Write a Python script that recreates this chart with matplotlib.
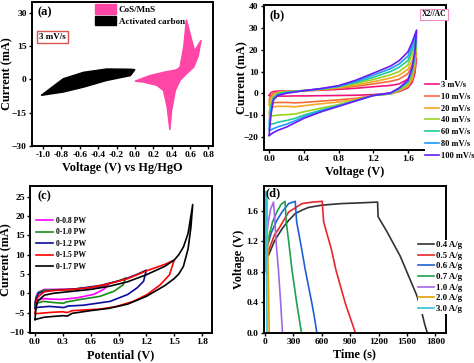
import numpy as np
import matplotlib
matplotlib.use("Agg")
import matplotlib.pyplot as plt

plt.rcParams['font.family'] = ['Liberation Serif', 'DejaVu Serif']
plt.rcParams['font.weight'] = 'bold'
plt.rcParams['axes.labelweight'] = 'bold'
plt.rcParams['axes.linewidth'] = 1.4

# ---------------- (a) CV of the two electrodes at 3 mV/s ----------------
cos_v = [0.00, 0.16, 0.31, 0.45, 0.49, 0.53, 0.56, 0.62, 0.65, 0.72, 0.69,
         0.64, 0.56, 0.49, 0.44, 0.40, 0.38, 0.35, 0.31, 0.24, 0.09]
cos_i = [-0.8, 1.7, 3.2, 4.3, 5.5, 14.4, 27.0, 17.4, 12.9, 17.7, 10.7,
         5.5, 2.5, -0.5, -5.0, -13.9, -22.8, -12.4, -5.0, -2.7, -1.2]
ac_v = [-1.02, -0.78, -0.56, -0.31, -0.05, 0.00, -0.05, -0.31, -0.56, -0.78]
ac_i = [-7.2, 0.3, 3.2, 4.7, 4.6, 4.4, 1.7, -0.5, -3.5, -5.7]

# ---------------- (b) X2//AC at different scan rates ----------------
b_labels = ['3 mV/s', '10 mV/s', '20 mV/s', '40 mV/s', '60 mV/s', '80 mV/s', '100 mV/s']
b_colors = ['#f0147a', '#f26b38', '#f5a623', '#9ad21e', '#1fc99a', '#1e9bff', '#6a1bf5']
b_v_up = [0.0, 0.02, 0.05, 0.1, 0.2, 0.4, 0.6, 0.8, 1.0, 1.2, 1.4, 1.5, 1.6, 1.65, 1.7]
b_v_dn = [1.7, 1.68, 1.65, 1.6, 1.5, 1.4, 1.2, 1.0, 0.8, 0.6, 0.4, 0.3, 0.2, 0.1, 0.05, 0.02, 0.0]
b_i_up = [
    [-1, 0.3, 0.8, 1.0, 1.0, 1.2, 1.4, 1.8, 2.3, 3.0, 3.6, 4.3, 6.5, 10, 16],
    [-3, -1, 0, 0.5, 0.8, 1.2, 1.6, 2.3, 3.2, 4.3, 5.5, 6.5, 9, 13, 19],
    [-5, -2.5, -0.5, 0.3, 0.8, 1.2, 1.8, 2.6, 3.8, 5.3, 7, 8.3, 11, 15, 22],
    [-9, -4, -1.5, 0, 0.7, 1.2, 1.9, 2.9, 4.5, 6.3, 8.5, 10, 13, 18, 24],
    [-13, -6, -2, -0.3, 0.5, 1.2, 2.0, 3.1, 5.0, 7.3, 10, 12, 15, 20, 26],
    [-16, -8, -2.5, -0.6, 0.3, 1.2, 2.1, 3.3, 5.5, 8.3, 11.3, 13.5, 17, 22, 28],
    [-19, -10, -3, -1, 0, 1.2, 2.2, 3.5, 6, 9.2, 12.5, 15, 19, 23.5, 29],
]
b_i_dn = [
    [16, 9, 5, 2.5, 0.8, 0, -0.6, -0.9, -1.0, -1.1, -1.2, -1.2, -1.3, -1.3, -1.3, -1.2, -1.0],
    [19, 11, 6, 3, 1, -0.3, -1.0, -2.3, -3.0, -3.6, -4.2, -4.4, -4.2, -4.2, -4.3, -4.3, -4.0],
    [22, 13, 7, 3.5, 1.2, -0.3, -1.0, -2.8, -4.0, -4.8, -5.7, -6.2, -6.0, -6.0, -6.2, -6.0, -5.5],
    [24, 15, 8.5, 4, 1.5, -0.2, -1.0, -3.2, -5.2, -6.8, -8.5, -9.5, -9.8, -10.0, -10.3, -10.3, -10.0],
    [26, 17, 10, 5, 2, -0.1, -1.0, -3.3, -5.6, -7.7, -10.0, -11.5, -12.5, -13.3, -14.0, -14.2, -14.0],
    [28, 18, 11, 5.5, 2.2, 0, -1.0, -3.4, -5.8, -8.1, -10.8, -12.6, -14.2, -15.4, -16.2, -16.8, -16.8],
    [29, 19, 12, 6, 2.5, 0.2, -1.0, -3.5, -6.0, -8.5, -11.5, -13.5, -15.5, -17.0, -18.0, -18.8, -19.5],
]

# ---------------- (c) different potential windows ----------------
c_labels = ['0-0.8 PW', '0-1.0 PW', '0-1.2 PW', '0-1.5 PW', '0-1.7 PW']
c_colors = ['#ff00ff', '#1a8c1a', '#0a0a9e', '#ff0000', '#000000']
c_v = [
    [0.0, 0.01, 0.03, 0.1, 0.2, 0.4, 0.6, 0.7, 0.79, 0.74, 0.63, 0.45, 0.27, 0.09, 0.03, 0.0],
    [0.0, 0.01, 0.04, 0.1, 0.2, 0.4, 0.7, 0.9, 0.98, 0.95, 0.85, 0.70, 0.49, 0.33, 0.31, 0.2, 0.09, 0.03, 0.0],
    [0.0, 0.01, 0.04, 0.1, 0.2, 0.4, 0.7, 0.95, 1.1, 1.2, 1.17, 1.1, 1.0, 0.81, 0.52, 0.36, 0.31, 0.16, 0.05, 0.0],
    [0.0, 0.01, 0.03, 0.1, 0.2, 0.4, 0.6, 0.8, 1.0, 1.2, 1.4, 1.5, 1.45, 1.35, 1.21, 1.06, 0.88, 0.70,
     0.40, 0.35, 0.30, 0.2, 0.1, 0.0],
    [0.0, 0.01, 0.03, 0.1, 0.2, 0.4, 0.6, 0.8, 1.0, 1.2, 1.4, 1.5, 1.55, 1.6, 1.65, 1.7, 1.68, 1.65,
     1.6, 1.55, 1.5, 1.4, 1.2, 1.0, 0.8, 0.6, 0.4, 0.35, 0.3, 0.2, 0.1, 0.0],
]
c_i = [
    [-3.0, -1.0, 0.2, 1.0, 1.0, 1.1, 1.4, 1.7, 2.1, 1.0, -0.3, -1.2, -1.6, -1.4, -1.8, -2.5],
    [-3.0, -1.2, 0.3, 0.8, 0.9, 1.0, 1.8, 3.2, 4.0, 2.2, 0.5, -0.8, -1.6, -2.3, -2.6, -2.4, -2.1, -2.5, -2.9],
    [-3.8, -1.5, 0.0, 0.5, 0.8, 1.0, 2.0, 3.5, 4.9, 6.0, 3.1, 1.4, -0.3, -2.1, -3.1, -3.3, -3.7, -3.4, -3.6, -3.8],
    [-5.2, -3.0, -1.0, 0.4, 0.7, 1.0, 1.5, 2.5, 3.8, 5.8, 7.5, 8.6, 4.8, 2.2, -0.3, -2.1, -3.4, -4.1,
     -4.5, -5.0, -4.8, -4.9, -5.1, -5.3],
    [-6.8, -4.0, -2.0, -0.5, 0.0, 0.5, 1.0, 1.8, 3.0, 4.8, 7.0, 8.6, 10.0, 12.0, 15.5, 23.0, 17.0, 11.5,
     7.0, 5.0, 3.8, 2.0, -0.8, -2.8, -3.9, -4.5, -5.2, -5.9, -5.8, -6.0, -6.2, -6.8],
]

# ---------------- (d) GCD at different current densities ----------------
d_labels = ['0.4 A/g', '0.5 A/g', '0.6 A/g', '0.7 A/g', '1.0 A/g', '2.0 A/g', '3.0 A/g']
d_colors = ['#333333', '#e8262a', '#1f5fd6', '#1fa050', '#a466e6', '#e0a000', '#2ec4d6']
d_t = [
    [0, 5, 40, 100, 180, 250, 320, 400, 460, 600, 800, 1000, 1190, 1195, 1290, 1430, 1600, 1640, 1690, 1715],
    [0, 5, 40, 100, 150, 250, 390, 500, 605, 620, 700, 750, 850, 900, 955],
    [0, 5, 30, 70, 130, 180, 250, 320, 335, 380, 425, 495, 520, 548],
    [0, 5, 20, 40, 80, 125, 170, 212, 225, 250, 285, 335, 360, 385],
    [0, 3, 15, 35, 60, 90, 100, 120, 142, 166, 185],
    [0, 4, 10, 20, 28, 38, 45],
    [0, 3, 8, 12, 15, 20, 22],
]
d_u = [
    [0.9, 0.97, 1.02, 1.2, 1.36, 1.47, 1.56, 1.61, 1.64, 1.67, 1.69, 1.70, 1.71, 1.52, 1.32, 1.0, 0.5, 0.35, 0.1, 0.0],
    [0.9, 0.97, 1.08, 1.28, 1.37, 1.58, 1.69, 1.71, 1.72, 1.45, 1.1, 0.82, 0.38, 0.2, 0.0],
    [0.9, 1.0, 1.15, 1.32, 1.48, 1.58, 1.69, 1.72, 1.45, 1.15, 0.83, 0.39, 0.22, 0.0],
    [0.9, 1.0, 1.15, 1.25, 1.45, 1.58, 1.68, 1.72, 1.45, 1.2, 0.83, 0.39, 0.2, 0.0],
    [0.9, 1.05, 1.25, 1.45, 1.62, 1.71, 1.55, 1.15, 0.83, 0.39, 0.0],
    [0.85, 1.25, 1.55, 1.75, 1.2, 0.5, 0.0],
    [0.8, 1.3, 1.7, 1.85, 1.0, 0.3, 0.0],
]

fig = plt.figure(figsize=(4.74, 3.63), dpi=100)
ax_a = fig.add_axes([0.0675, 0.598, 0.382, 0.397])
ax_b = fig.add_axes([0.556, 0.587, 0.385, 0.399])
ax_c = fig.add_axes([0.0633, 0.0826, 0.384, 0.405])
ax_d = fig.add_axes([0.556, 0.0834, 0.385, 0.404])

tick_fs = 6.8
lab_fs = 8.8
for ax in (ax_a, ax_b, ax_c, ax_d):
    ax.tick_params(direction='out', length=2.5, width=1.0, labelsize=tick_fs, pad=1.2)

# (a)
ax_a.fill(cos_v, cos_i, color='#ff45a5', label='CoS/MnS')
ax_a.fill(ac_v, ac_i, color='black', label='Activated carbon')
ax_a.set_xlim(-1.12, 0.85)
ax_a.set_ylim(-30, 35)
ax_a.set_xticks(np.arange(-1.0, 0.81, 0.2))
ax_a.set_xticklabels(['-1.0', '-0.8', '-0.6', '-0.4', '-0.2', '0.0', '0.2', '0.4', '0.6', '0.8'])
ax_a.set_yticks([-30, -15, 0, 15, 30])
ax_a.set_xlabel('Voltage (V) vs Hg/HgO', fontsize=lab_fs, labelpad=2)
ax_a.set_ylabel('Current (mA)', fontsize=lab_fs)
ax_a.yaxis.set_label_coords(-0.105, 0.5)
ax_a.text(0.03, 0.97, '(a)', transform=ax_a.transAxes, fontsize=9, va='top')
ax_a.text(0.04, 0.755, '3 mV/s', transform=ax_a.transAxes, fontsize=6.5, va='center',
          bbox=dict(boxstyle='square,pad=0.25', fc='white', ec='#d9534f', lw=1.0))
ax_a.legend(loc='upper left', bbox_to_anchor=(0.32, 1.02), frameon=False, fontsize=6.5,
            handlelength=2.3, handleheight=1.2, handletextpad=0.3, labelspacing=0.2, borderpad=0.1)

# (b)
for k in range(len(b_labels)):
    xs = b_v_up + b_v_dn
    ys = b_i_up[k] + b_i_dn[k]
    ax_b.plot(xs, ys, color=b_colors[k], lw=1.2, label=b_labels[k])
ax_b.set_xlim(-0.065, 2.04)
ax_b.set_ylim(-26, 40.5)
ax_b.set_xticks([0.0, 0.4, 0.8, 1.2, 1.6])
ax_b.set_yticks([-20, -10, 0, 10, 20, 30, 40])
ax_b.set_xlabel('Voltage (V)', fontsize=lab_fs, labelpad=2)
ax_b.set_ylabel('Current (mA)', fontsize=lab_fs)
ax_b.yaxis.set_label_coords(-0.085, 0.5)
ax_b.text(0.03, 0.97, '(b)', transform=ax_b.transAxes, fontsize=9, va='top')
ax_b.text(0.935, 0.935, 'X2//AC', transform=ax_b.transAxes, fontsize=5.5, ha='center', va='center',
          bbox=dict(boxstyle='square,pad=0.25', fc='white', ec='#f08cc0', lw=0.8))
leg_b = ax_b.legend(loc='upper left', bbox_to_anchor=(0.86, 0.51), fontsize=6.0, frameon=True,
                    facecolor='white', edgecolor='none', framealpha=1, fancybox=False,
                    handlelength=1.6, handletextpad=0.3, labelspacing=0.45, borderpad=0.1)
leg_b.set_zorder(10)

# (c)
for k in range(len(c_labels)):
    ax_c.plot(c_v[k], c_i[k], color=c_colors[k], lw=1.2, label=c_labels[k])
ax_c.set_xlim(-0.054, 1.908)
ax_c.set_ylim(-10.3, 27.8)
ax_c.set_xticks([0.0, 0.3, 0.6, 0.9, 1.2, 1.5, 1.8])
ax_c.set_yticks([-10, -5, 0, 5, 10, 15, 20, 25])
ax_c.set_xlabel('Potential (V)', fontsize=lab_fs, labelpad=2)
ax_c.set_ylabel('Current (mA)', fontsize=lab_fs)
ax_c.yaxis.set_label_coords(-0.095, 0.5)
ax_c.text(0.04, 0.97, '(c)', transform=ax_c.transAxes, fontsize=9, va='top')
ax_c.legend(loc='upper left', bbox_to_anchor=(0.01, 0.82), frameon=False, fontsize=5.5,
            handlelength=2.2, handletextpad=0.3, labelspacing=0.45, borderpad=0.1)

# (d)
for k in range(len(d_labels)):
    ax_d.plot(d_t[k], d_u[k], color=d_colors[k], lw=1.2, label=d_labels[k])
ax_d.set_xlim(-15, 1913)
ax_d.set_ylim(0, 1.92)
ax_d.set_xticks([0, 300, 600, 900, 1200, 1500, 1800])
ax_d.set_yticks([0.0, 0.4, 0.8, 1.2, 1.6])
ax_d.set_yticklabels(['0.0', '0.4', '0.8', '1.2', '1.6'])
ax_d.set_xlabel('Time (s)', fontsize=lab_fs, labelpad=2)
ax_d.set_ylabel('Voltage (V)', fontsize=lab_fs)
ax_d.yaxis.set_label_coords(-0.1, 0.5)
ax_d.text(0.01, 0.99, '(d)', transform=ax_d.transAxes, fontsize=9, va='top')
leg_d = ax_d.legend(loc='upper left', bbox_to_anchor=(0.82, 0.66), fontsize=6.3, frameon=True,
                    facecolor='white', edgecolor='none', framealpha=1, fancybox=False,
                    handlelength=1.8, handletextpad=0.2, labelspacing=0.28, borderpad=0.1)
leg_d.set_zorder(10)

fig.savefig('out.png', dpi=100)
